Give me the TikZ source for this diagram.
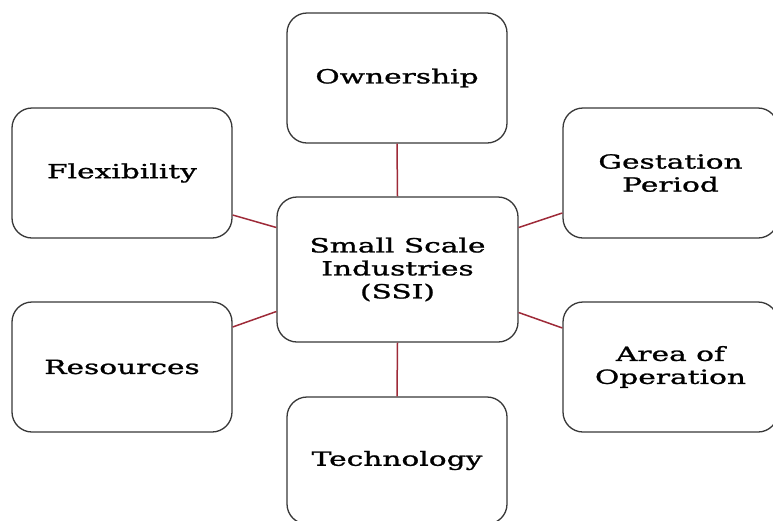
\documentclass[tikz,border=0pt]{standalone}
\usepackage{fontspec}
\setmainfont{DejaVu Serif}[FakeStretch=1.52,FakeBold=1.2]
\definecolor{linkred}{HTML}{9E2A38}
\definecolor{boxgray}{HTML}{383838}
\begin{document}
\begin{tikzpicture}[x=1pt,y=-1pt,
  card/.style={draw=boxgray, line width=1.3pt, rounded corners=20pt, fill=white,
    minimum width=220pt, minimum height=130pt, align=center, inner sep=0pt,
    font=\fontsize{19.5}{23}\selectfont},
  hub/.style={card, minimum width=241pt, minimum height=145pt},
  link/.style={draw=linkred, line width=1.5pt}]
\useasboundingbox (0,0) rectangle (773,520);
\node[card] (own)  at (397,78)  {Ownership};
\node[card] (flex) at (122,173) {Flexibility};
\node[card, minimum width=215pt] (gest) at (670.5,173) {Gestation\\Period};
\node[hub]  (ssi)  at (397.5,269.5) {Small Scale\\Industries\\(SSI)};
\node[card] (res)  at (122,367) {Resources};
\node[card, minimum width=215pt] (area) at (670.5,367) {Area of\\Operation};
\node[card, minimum height=127pt] (tech) at (397,460.5) {Technology};
\draw[link] (own.south) -- (ssi.north);
\draw[link] (ssi.south) -- (tech.north);
\draw[link] ([yshift=-42pt]flex.east) -- ([yshift=42pt]ssi.west);
\draw[link] ([yshift=-40pt]gest.west) -- ([yshift=42pt]ssi.east);
\draw[link] ([yshift=40pt]res.east) -- ([yshift=-42pt]ssi.west);
\draw[link] ([yshift=39pt]area.west) -- ([yshift=-43pt]ssi.east);
\end{tikzpicture}
\end{document}
